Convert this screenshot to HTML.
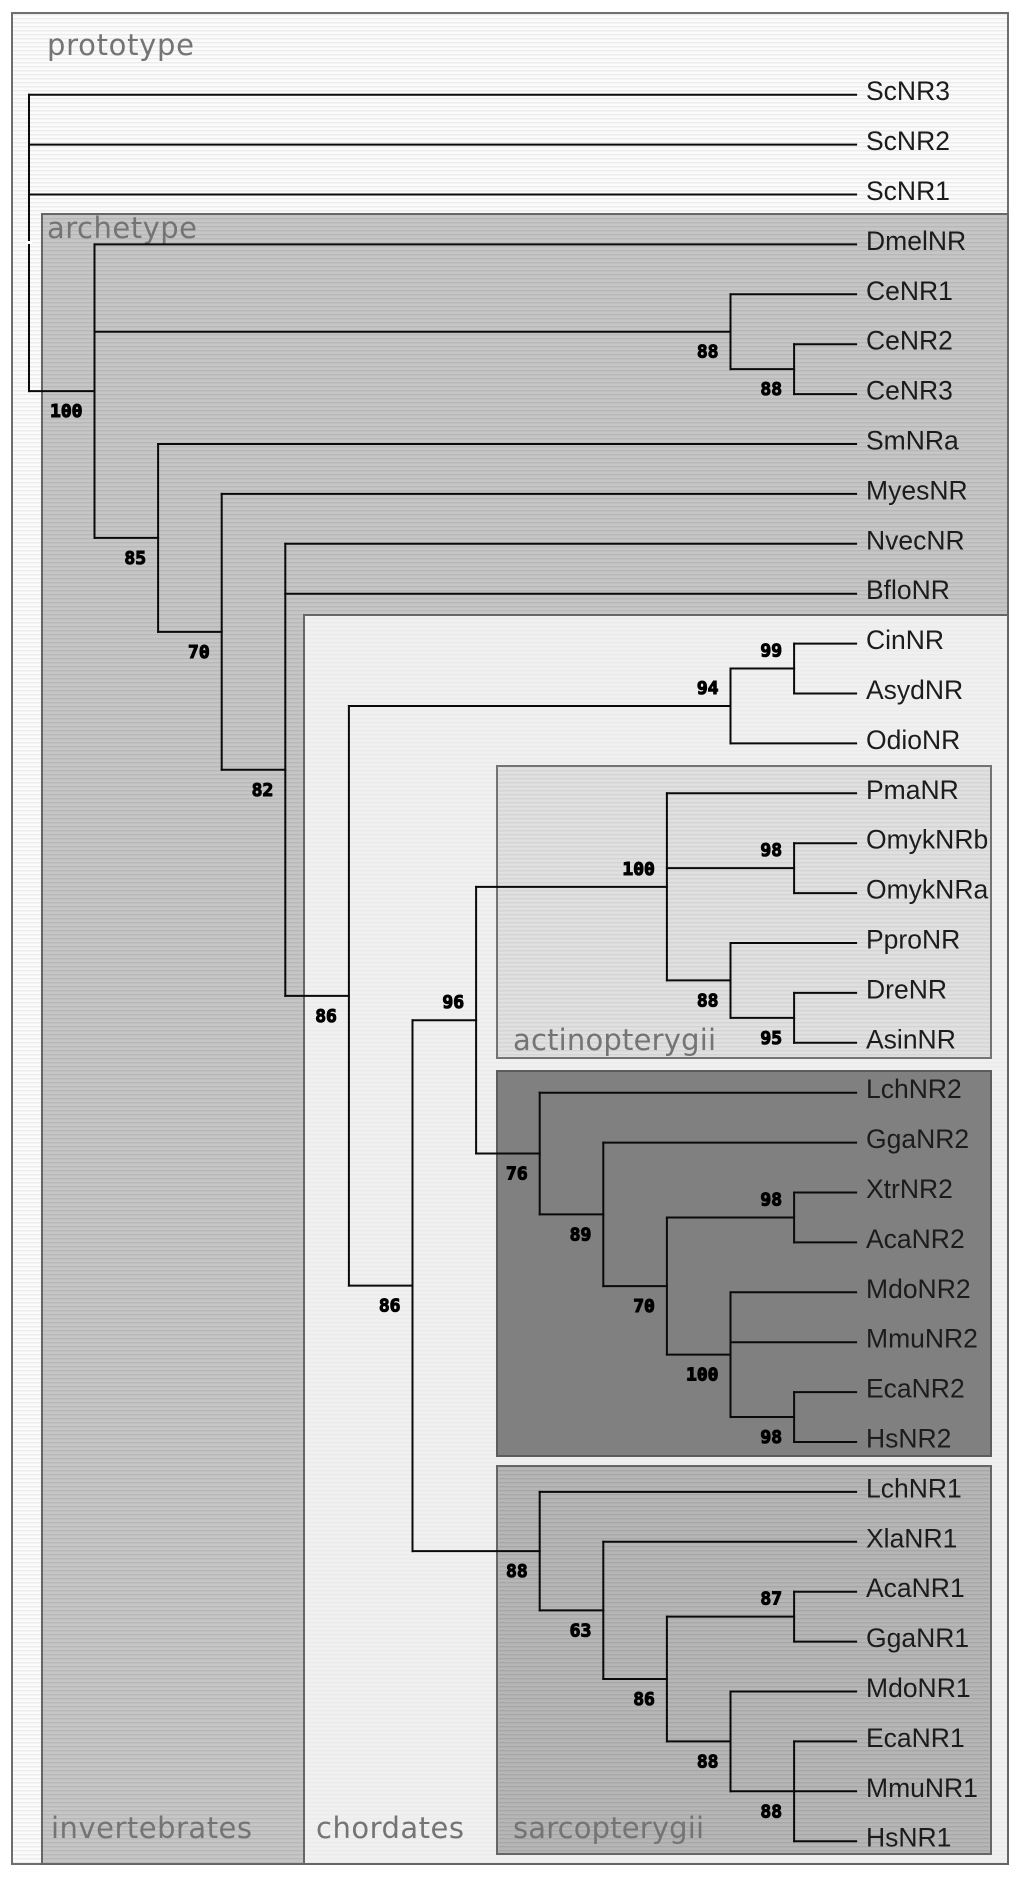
<!DOCTYPE html>
<html lang="en">
<head>
<meta charset="utf-8">
<title>NR phylogenetic tree</title>
<style>
html,body{margin:0;padding:0;background:#fff;width:1024px;height:1879px;overflow:hidden}
svg{display:block}
.region{font-family:"DejaVu Sans",sans-serif;font-size:29px;fill:#747474}
.taxon{font-family:"Liberation Sans",sans-serif;font-size:26.5px;fill:#1c1c1c}
.support{font-family:"DejaVu Sans Mono",monospace;font-size:18px;font-weight:bold;fill:#000;stroke:#000;stroke-width:1.1px}
</style>
</head>
<body>
<svg id="chart" xmlns="http://www.w3.org/2000/svg" width="1024" height="1879" viewBox="0 0 1024 1879">
  <defs>
    <pattern id="scan-proto" width="4" height="4" patternUnits="userSpaceOnUse"><rect width="4" height="4" fill="#fbfbfb"/><rect y="2" width="4" height="1.4" fill="#ececec"/></pattern>
    <pattern id="scan-arch" width="4" height="4" patternUnits="userSpaceOnUse"><rect width="4" height="4" fill="#c6c6c6"/><rect y="2" width="4" height="1.4" fill="#b8b8b8"/></pattern>
    <pattern id="scan-chord" width="4" height="4" patternUnits="userSpaceOnUse"><rect width="4" height="4" fill="#f0f0f0"/><rect y="2" width="4" height="1.4" fill="#ebebeb"/></pattern>
    <pattern id="scan-actino" width="4" height="4" patternUnits="userSpaceOnUse"><rect width="4" height="4" fill="#e0e0e0"/><rect y="2" width="4" height="1.4" fill="#d4d4d4"/></pattern>
    <pattern id="scan-sarc" width="4" height="4" patternUnits="userSpaceOnUse"><rect width="4" height="4" fill="#b6b6b6"/><rect y="2" width="4" height="1.4" fill="#a8a8a8"/></pattern>
  </defs>

  <rect x="12" y="13" width="996" height="1851" fill="url(#scan-proto)" stroke="#6e6e6e" stroke-width="2"/>
  <rect x="42" y="214" width="966" height="1650" fill="url(#scan-arch)" stroke="#666" stroke-width="2"/>
  <rect x="304" y="615" width="704" height="1249" fill="url(#scan-chord)" stroke="#666" stroke-width="2"/>
  <rect x="497" y="766" width="494" height="292" fill="url(#scan-actino)" stroke="#737373" stroke-width="2"/>
  <rect x="497" y="1071" width="494" height="385" fill="#808080" stroke="#5c5c5c" stroke-width="2"/>
  <rect x="497" y="1466" width="494" height="388" fill="url(#scan-sarc)" stroke="#666" stroke-width="2"/>

  <text class="region" x="47" y="55" textLength="147" lengthAdjust="spacing">prototype</text>
  <text class="region" x="47" y="238" textLength="150" lengthAdjust="spacing">archetype</text>
  <text class="region" x="51" y="1838" textLength="201" lengthAdjust="spacing">invertebrates</text>
  <text class="region" x="316" y="1838" textLength="148" lengthAdjust="spacing">chordates</text>
  <text class="region" x="513" y="1050" textLength="203" lengthAdjust="spacing">actinopterygii</text>
  <text class="region" x="513" y="1838" textLength="191" lengthAdjust="spacing">sarcopterygii</text>

  <g id="tree"></g>
  <rect x="27" y="241" width="5" height="3" fill="#ffffff"/>
  <g id="labels"></g>
  <g id="supports"></g>
</svg>

<script>
// Leaf taxa, top to bottom
const taxa = ["ScNR3","ScNR2","ScNR1","DmelNR","CeNR1","CeNR2","CeNR3","SmNRa","MyesNR","NvecNR","BfloNR","CinNR","AsydNR","OdioNR","PmaNR","OmykNRb","OmykNRa","PproNR","DreNR","AsinNR","LchNR2","GgaNR2","XtrNR2","AcaNR2","MdoNR2","MmuNR2","EcaNR2","HsNR2","LchNR1","XlaNR1","AcaNR1","GgaNR1","MdoNR1","EcaNR1","MmuNR1","HsNR1"];

// Internal nodes: identifiers, tree depth (column), bootstrap support, children
const nodeIds = ["root","bilateria","ceAll","ce23","n2","n3","n4","chord","uro","cinAsyd","vert","osteo","actino","omyk","ppAll","dreAsin","nr2","nr2b","nr2c","xtrAca2","mam2","ecaHs2","nr1","nr1b","nr1c","acaGga1","mam1","ecaHs1"];
const nodeDepths = [-0.03,1,11,12,2,3,4,5,11,12,6,7,10,12,11,12,8,9,10,12,11,12,8,9,10,12,11,12];
const nodeSupports = [null,100,88,88,85,70,82,86,94,99,86,96,100,98,88,95,76,89,70,98,100,98,88,63,86,87,88,88];
const nodeChildren = [
  ["ScNR3","ScNR2","ScNR1","bilateria"],
  ["DmelNR","ceAll","n2"],
  ["CeNR1","ce23"],
  ["CeNR2","CeNR3"],
  ["SmNRa","n3"],
  ["MyesNR","n4"],
  ["NvecNR","BfloNR","chord"],
  ["uro","vert"],
  ["cinAsyd","OdioNR"],
  ["CinNR","AsydNR"],
  ["osteo","nr1"],
  ["actino","nr2"],
  ["PmaNR","omyk","ppAll"],
  ["OmykNRb","OmykNRa"],
  ["PproNR","dreAsin"],
  ["DreNR","AsinNR"],
  ["LchNR2","nr2b"],
  ["GgaNR2","nr2c"],
  ["xtrAca2","mam2"],
  ["XtrNR2","AcaNR2"],
  ["MdoNR2","MmuNR2","ecaHs2"],
  ["EcaNR2","HsNR2"],
  ["LchNR1","nr1b"],
  ["XlaNR1","nr1c"],
  ["acaGga1","mam1"],
  ["AcaNR1","GgaNR1"],
  ["MdoNR1","ecaHs1"],
  ["EcaNR1","MmuNR1","HsNR1"]
];
// Middle children whose support value sits above the branch
const supportAbove = ["omyk"];

const NS = "http://www.w3.org/2000/svg";
const treeLayer = document.getElementById("tree");
const labelLayer = document.getElementById("labels");
const supportLayer = document.getElementById("supports");

function depthX(d){ return 30.9 + 63.6 * d; }
function leafY(i){ return 94.7 + 49.9 * i; }
const TIP_X = depthX(12) + 62;

function addLine(x1, y1, x2, y2, name){
  const l = document.createElementNS(NS, "line");
  l.setAttribute("x1", x1);
  l.setAttribute("y1", y1);
  l.setAttribute("x2", x2);
  l.setAttribute("y2", y2);
  l.setAttribute("stroke", "#0a0a0a");
  l.setAttribute("stroke-width", "2");
  l.setAttribute("stroke-linecap", "square");
  
  
  treeLayer.appendChild(l);
}

function layout(id){
  const leafIndex = taxa.indexOf(id);
  if (leafIndex >= 0) {
    return { x: TIP_X, y: leafY(leafIndex), leaf: true };
  }
  const n = nodeIds.indexOf(id);
  const x = depthX(nodeDepths[n]);
  const kids = nodeChildren[n].map(layout);
  const y = (kids[0].y + kids[kids.length - 1].y) / 2;
  addLine(x, kids[0].y, x, kids[kids.length - 1].y, "stem-" + id);
  kids.forEach(function(k, i){
    const childId = nodeChildren[n][i];
    addLine(x, k.y, k.x, k.y, "branch-" + childId);
    if (!k.leaf) {
      const cn = nodeIds.indexOf(childId);
      const value = nodeSupports[cn];
      if (value !== null) {
        const above = i === 0 || supportAbove.indexOf(childId) >= 0;
        const t = document.createElementNS(NS, "text");
        t.setAttribute("class", "support");
        t.setAttribute("x", k.x - 12);
        t.setAttribute("y", k.y + (above ? -12 : 26));
        t.setAttribute("text-anchor", "end");
        
        
        t.textContent = value;
        supportLayer.appendChild(t);
      }
    }
  });
  return { x: x, y: y, leaf: false };
}

taxa.forEach(function(name, i){
  const t = document.createElementNS(NS, "text");
  t.setAttribute("class", "taxon");
  t.setAttribute("x", 866);
  t.setAttribute("y", leafY(i) + 5.5);
  
  
  t.textContent = name;
  labelLayer.appendChild(t);
});

layout("root");
</script>
</body>
</html>
